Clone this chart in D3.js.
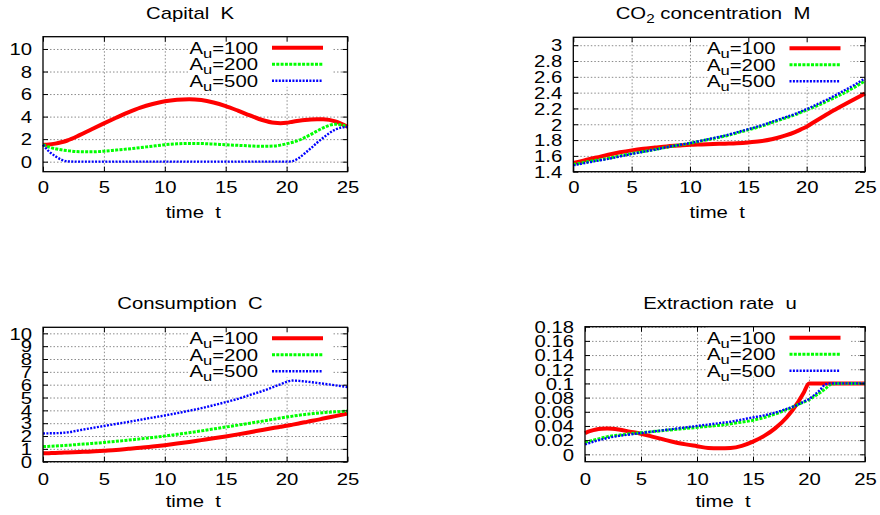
<!DOCTYPE html>
<html><head><meta charset="utf-8">
<script src="https://cdn.jsdelivr.net/npm/d3@7"></script>
<style>
body{margin:0;background:#fff}
text{font-family:"Liberation Sans",Arial,Helvetica,sans-serif;fill:#000;white-space:pre}
</style>
</head><body>
<svg id="c" width="880" height="515"></svg>
<script>
// ---------------- data ----------------
const time = [0,0.5,1,1.5,2,3,4,5,6,7,8,9,10,11,12,13,14,15,16,17,18,19,19.5,20,20.5,21,21.5,22,22.5,23,24,25];
const seriesLabels = ["100","200","500"];
const xTicks = [0,5,10,15,20,25];

// Capital K
const kA100 = [1.5,1.52,1.6,1.72,1.88,2.35,2.88,3.4,3.9,4.38,4.8,5.12,5.36,5.5,5.55,5.47,5.25,4.93,4.53,4.1,3.7,3.45,3.42,3.45,3.55,3.63,3.7,3.75,3.77,3.76,3.58,3.1];
const kA200 = [1.5,1.3,1.15,1.05,0.98,0.88,0.87,0.93,1.03,1.13,1.25,1.38,1.5,1.58,1.62,1.61,1.56,1.5,1.45,1.4,1.36,1.4,1.47,1.58,1.72,1.9,2.15,2.42,2.72,3.0,3.32,3.1];
const kA500 = [1.5,0.9,0.5,0.18,0.03,0,0,0,0,0,0,0,0,0,0,0,0,0,0,0,0,0,0,0,0.05,0.32,0.75,1.2,1.68,2.12,2.85,3.1];
const kTicks = [0,2,4,6,8,10];

// CO2 concentration M
const mA100 = [1.51,1.527,1.545,1.563,1.58,1.615,1.645,1.67,1.69,1.705,1.72,1.73,1.74,1.745,1.75,1.755,1.76,1.77,1.785,1.81,1.85,1.9,1.935,1.97,2.015,2.06,2.105,2.15,2.19,2.23,2.31,2.39];
const mA200 = [1.49,1.505,1.52,1.533,1.545,1.57,1.6,1.63,1.655,1.68,1.71,1.735,1.76,1.79,1.82,1.85,1.89,1.93,1.97,2.02,2.07,2.12,2.15,2.18,2.21,2.24,2.275,2.31,2.345,2.38,2.46,2.55];
const mA500 = [1.48,1.495,1.51,1.523,1.537,1.563,1.593,1.625,1.652,1.68,1.71,1.737,1.763,1.793,1.825,1.857,1.897,1.938,1.98,2.03,2.08,2.13,2.16,2.19,2.225,2.26,2.295,2.33,2.37,2.41,2.49,2.58];
const mTicks = [1.4,1.6,1.8,2,2.2,2.4,2.6,2.8,3];

// Consumption C
const cA100 = [0.65,0.665,0.68,0.7,0.72,0.76,0.8,0.86,0.92,1.0,1.08,1.18,1.29,1.41,1.54,1.68,1.82,1.97,2.13,2.3,2.47,2.64,2.72,2.8,2.89,2.98,3.07,3.17,3.26,3.36,3.55,3.75];
const cA200 = [1.17,1.195,1.22,1.25,1.28,1.35,1.42,1.5,1.59,1.68,1.78,1.89,2.0,2.13,2.26,2.4,2.55,2.7,2.85,3.0,3.16,3.32,3.4,3.48,3.55,3.62,3.68,3.73,3.78,3.82,3.89,3.94];
const cA500 = [2.2,2.21,2.22,2.24,2.28,2.45,2.62,2.78,2.94,3.1,3.27,3.44,3.6,3.78,3.97,4.17,4.4,4.64,4.9,5.2,5.5,5.85,6.03,6.22,6.32,6.3,6.25,6.2,6.14,6.08,5.95,5.82];
const cTicks = [0,1,2,3,4,5,6,7,8,9,10];

// Extraction rate u
const uA100 = [0.030,0.033,0.035,0.036,0.0365,0.035,0.032,0.029,0.025,0.021,0.017,0.014,0.0115,0.009,0.0085,0.009,0.012,0.018,0.026,0.037,0.052,0.073,0.086,0.1,0.1,0.1,0.1,0.1,0.1,0.1,0.1,0.1];
const uA200 = [0.017,0.019,0.021,0.023,0.025,0.027,0.029,0.0305,0.032,0.0335,0.035,0.0365,0.038,0.0395,0.041,0.043,0.0455,0.048,0.052,0.057,0.063,0.07,0.0735,0.077,0.082,0.087,0.093,0.099,0.1,0.1,0.1,0.1];
const uA500 = [0.014,0.0165,0.019,0.021,0.023,0.026,0.028,0.030,0.032,0.034,0.036,0.038,0.040,0.042,0.044,0.046,0.049,0.052,0.055,0.059,0.064,0.07,0.074,0.078,0.084,0.091,0.099,0.1,0.1,0.1,0.1,0.1];
const uTicks = [0,0.02,0.04,0.06,0.08,0.1,0.12,0.14,0.16,0.18];

// ---------------- layout / style ----------------
const SX = 1.27;        // horizontal stretch of the gnuplot text
const FS = 16;          // font size
const styles = [
  {color:"#ff0000", width:4,   dash:null},
  {color:"#00ff00", width:3,   dash:"3,1.3"},
  {color:"#0000ff", width:2.4, dash:"2,1.4"}
];

const panels = [
  {title:[["Capital  K",0]], series:[kA100,kA200,kA500], ticks:kTicks, fmt:d3.format("d"),
   yDomain:[-0.89,11.09], x0:43, x1:347.5, y0:36.7, y1:171.7, titleX:190, titleY:18.5, tickY:193, labelY:218},
  {title:[["CO",0],["2",1],[" concentration  M",-1]], series:[mA100,mA200,mA500], ticks:mTicks, fmt:d3.format(""),
   yDomain:[1.4,3.1], x0:573.3, x1:865, y0:37.3, y1:171.7, titleX:713, titleY:18.5, tickY:193, labelY:218},
  {title:[["Consumption  C",0]], series:[cA100,cA200,cA500], ticks:cTicks, fmt:d3.format("d"),
   yDomain:[0,10.47], x0:43, x1:347.5, y0:327.3, y1:461.7, titleX:190, titleY:308.5, tickY:485, labelY:507},
  {title:[["Extraction rate  u",0]], series:[uA100,uA200,uA500], ticks:uTicks, fmt:d3.format(""),
   yDomain:[-0.0104,0.18], x0:585, x1:865, y0:326.7, y1:461.7, titleX:720, titleY:308.5, tickY:485, labelY:507}
];

const svg = d3.select("#c");

function stretchText(sel, x, y, anchor){
  return sel.attr("transform", `translate(${x},${y}) scale(${SX},1)`)
            .attr("text-anchor", anchor).style("font-size", FS+"px");
}

panels.forEach(p => {
  const x = d3.scaleLinear().domain([0,25]).range([p.x0, p.x1]);
  const y = d3.scaleLinear().domain(p.yDomain).range([p.y1, p.y0]);
  const w = p.x1 - p.x0, h = p.y1 - p.y0;
  const g = svg.append("g");

  // grid
  const gy = g.append("g").attr("transform", `translate(${p.x0},0)`)
    .call(d3.axisLeft(y).tickValues(p.ticks).tickSize(-w).tickFormat(""));
  const gx = g.append("g").attr("transform", `translate(0,${p.y1})`)
    .call(d3.axisBottom(x).tickValues(xTicks.slice(1,-1)).tickSize(-h).tickFormat(""));
  [gx, gy].forEach(a => {
    a.select(".domain").remove();
    a.selectAll("line").attr("stroke","#8c8c8c").attr("stroke-width",1).attr("stroke-dasharray","1.5,2");
  });

  // legend box (opaque), anchored to the right edge of the plot
  const lx = p.x1 - 157.5, ly = p.y0;
  g.append("rect").attr("x", lx).attr("y", ly).attr("width", 143).attr("height", 50).attr("fill","#fff");

  // curves
  const line = d3.line().x((d,i)=>x(time[i])).y(d=>y(d)).curve(d3.curveMonotoneX);
  p.series.forEach((s, k) => {
    const st = styles[k];
    g.append("path").datum(s).attr("d", line).attr("fill","none")
      .attr("stroke", st.color).attr("stroke-width", st.width)
      .attr("stroke-dasharray", st.dash).attr("stroke-linejoin","round");
  });

  // legend entries
  seriesLabels.forEach((lab, k) => {
    const ry = ly + 11 + k*16.5;
    const st = styles[k];
    const t = stretchText(g.append("text"), p.x1 - 89.5, ry + 6, "end");
    t.append("tspan").text("A");
    t.append("tspan").attr("dy", 4).style("font-size", (FS-3)+"px").text("u");
    t.append("tspan").attr("dy", -4).text("=" + lab);
    g.append("line").attr("x1", p.x1 - 75.5).attr("x2", p.x1 - 24.5).attr("y1", ry).attr("y2", ry)
      .attr("stroke", st.color).attr("stroke-width", st.width).attr("stroke-dasharray", st.dash);
  });

  // tick marks on all four sides (inward)
  const tl = g.append("g").attr("transform", `translate(${p.x0},0)`)
    .call(d3.axisLeft(y).tickValues(p.ticks).tickSize(-5).tickPadding(9).tickFormat(p.fmt));
  const tr = g.append("g").attr("transform", `translate(${p.x1},0)`)
    .call(d3.axisRight(y).tickValues(p.ticks).tickSize(-5).tickFormat(""));
  const tb = g.append("g").attr("transform", `translate(0,${p.y1})`)
    .call(d3.axisBottom(x).tickValues(xTicks).tickSize(-5).tickFormat(d3.format("d")));
  const tt = g.append("g").attr("transform", `translate(0,${p.y0})`)
    .call(d3.axisTop(x).tickValues(xTicks).tickSize(-5).tickFormat(""));
  [tl,tr,tb,tt].forEach(a => {
    a.select(".domain").remove();
    a.selectAll("line").attr("stroke","#000").attr("stroke-width",1);
    a.attr("font-family", null).attr("font-size", null);
  });
  tl.selectAll(".tick text").attr("x", null).attr("dy","0.36em")
    .attr("transform", `translate(-11,0) scale(${SX},1)`).attr("text-anchor","end").style("font-size", FS+"px");
  tb.selectAll(".tick text").attr("y", null).attr("dy", null)
    .attr("transform", `translate(0,${p.tickY - p.y1}) scale(${SX},1)`).attr("text-anchor","middle").style("font-size", FS+"px");

  // frame
  g.append("rect").attr("x", p.x0).attr("y", p.y0).attr("width", w).attr("height", h)
    .attr("fill","none").attr("stroke","#000").attr("stroke-width",1.3);

  // title
  const tt2 = stretchText(g.append("text"), p.titleX, p.titleY, "middle");
  p.title.forEach(([str, sub]) => {
    const ts = tt2.append("tspan").text(str);
    if (sub === 1) ts.attr("dy", 4).style("font-size", (FS-4)+"px");
    if (sub === -1) ts.attr("dy", -4);
  });

  // x label
  stretchText(g.append("text"), (p.x0+p.x1)/2 - 2, p.labelY, "middle").text("time  t");
});
</script>
</body></html>
